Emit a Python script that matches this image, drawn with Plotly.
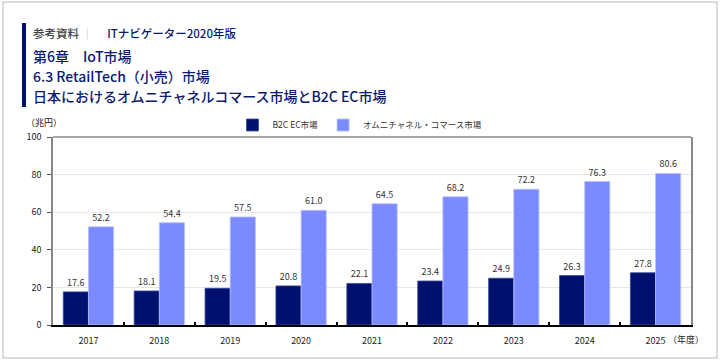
import plotly.graph_objects as go

years = ["2017", "2018", "2019", "2020", "2021", "2022", "2023", "2024", "2025"]
b2c_ec = [17.6, 18.1, 19.5, 20.8, 22.1, 23.4, 24.9, 26.3, 27.8]
omni = [52.2, 54.4, 57.5, 61.0, 64.5, 68.2, 72.2, 76.3, 80.6]
y_ticks = [0, 20, 40, 60, 80, 100]

FONT = "Noto Sans CJK JP, Noto Sans, sans-serif"
NAVY = "#0B1A6E"

fig = go.Figure()
fig.add_trace(go.Bar(
    x=years, y=b2c_ec, name="B2C EC市場",
    marker=dict(color="#00106E", line=dict(color="#3A4A9A", width=0.8)),
    text=[f"{v:.1f}" for v in b2c_ec], textposition="outside",
    textfont=dict(size=9, color="#333333", family=FONT), cliponaxis=False,
))
fig.add_trace(go.Bar(
    x=years, y=omni, name="オムニチャネル・コマース市場",
    marker=dict(color="#7B8BFF", line=dict(color="#B8C2FF", width=0.8)),
    text=[f"{v:.1f}" for v in omni], textposition="outside",
    textfont=dict(size=9, color="#333333", family=FONT), cliponaxis=False,
))

fig.update_layout(
    width=720, height=360,
    margin=dict(l=53, r=29, t=137, b=35, autoexpand=False),
    paper_bgcolor="white", plot_bgcolor="white",
    barmode="group", bargap=0.29, bargroupgap=0,
    font=dict(family=FONT, size=9, color="#222222"),
    showlegend=True,
    legend=dict(orientation="h", x=0.5, xanchor="center", xref="container",
                y=1 - 125/360, yref="container", yanchor="middle",
                font=dict(size=8.5, color="#333333"),
                traceorder="normal", bgcolor="rgba(0,0,0,0)"),
    xaxis=dict(type="category", showline=True, linecolor="black", linewidth=2,
               ticks="inside", tickson="boundaries", ticklen=3, tickwidth=2,
               tickcolor="black", tickfont=dict(size=9, color="#222222"),
               ticklabelstandoff=6, showgrid=False),
    yaxis=dict(range=[0, 100], tickvals=y_ticks, showline=True, linecolor="#888888",
               linewidth=1.5, mirror=True, ticks="outside", ticklen=4,
               tickcolor="#555555", tickfont=dict(size=9, color="#222222"),
               ticklabelstandoff=4,
               showgrid=True, gridcolor="#E6E6E6", gridwidth=1, zeroline=False),
)

shapes = [
    # outer frame
    dict(type="rect", xref="paper", yref="paper", x0=-50/638, x1=1 + 26/638,
         y0=-33/188, y1=1 + 135/188, line=dict(color="#D0D0D0", width=1.5)),
    # left navy bar
    dict(type="rect", xref="paper", yref="paper", x0=-31/638, x1=-27/638,
         y0=1 + (137 - 107)/188, y1=1 + (137 - 23)/188, fillcolor="#00106E",
         line=dict(width=0)),
    # top border of plot
    dict(type="line", xref="paper", yref="paper", x0=0, x1=1, y0=1, y1=1,
         line=dict(color="#888888", width=1.5)),
]
fig.update_layout(shapes=shapes)

def ann(text, x, y, size, color, xanchor="left", weight="normal"):
    fig.add_annotation(text=text, x=x, y=y, xref="paper", yref="paper",
                       xanchor=xanchor, yanchor="middle", showarrow=False,
                       font=dict(family=FONT, size=size, color=color, weight=weight))

def px(xp):
    return (xp - 53) / 638

def py(yp):
    return (325 - yp) / 188

ann("<span style='color:#444444'>参考資料</span><span style='color:#BBBBBB'> ｜</span>　 ITナビゲーター2020年版",
    px(31), py(33), 11.5, NAVY, weight=500)
ann("第6章　IoT市場", px(31), py(56), 14, NAVY, weight=500)
ann("6.3 RetailTech（小売）市場", px(31), py(76), 14, NAVY, weight=500)
ann("日本におけるオムニチャネルコマース市場とB2C EC市場", px(31), py(96), 14, NAVY, weight=500)
ann("（兆円）", px(24), py(123), 9, "#222222")
ann("（年度）", px(666), py(339), 9, "#222222")

fig.write_html("out.html", config={"displayModeBar": False},
               post_script="document.body.style.margin='0';document.body.style.overflow='hidden';")
